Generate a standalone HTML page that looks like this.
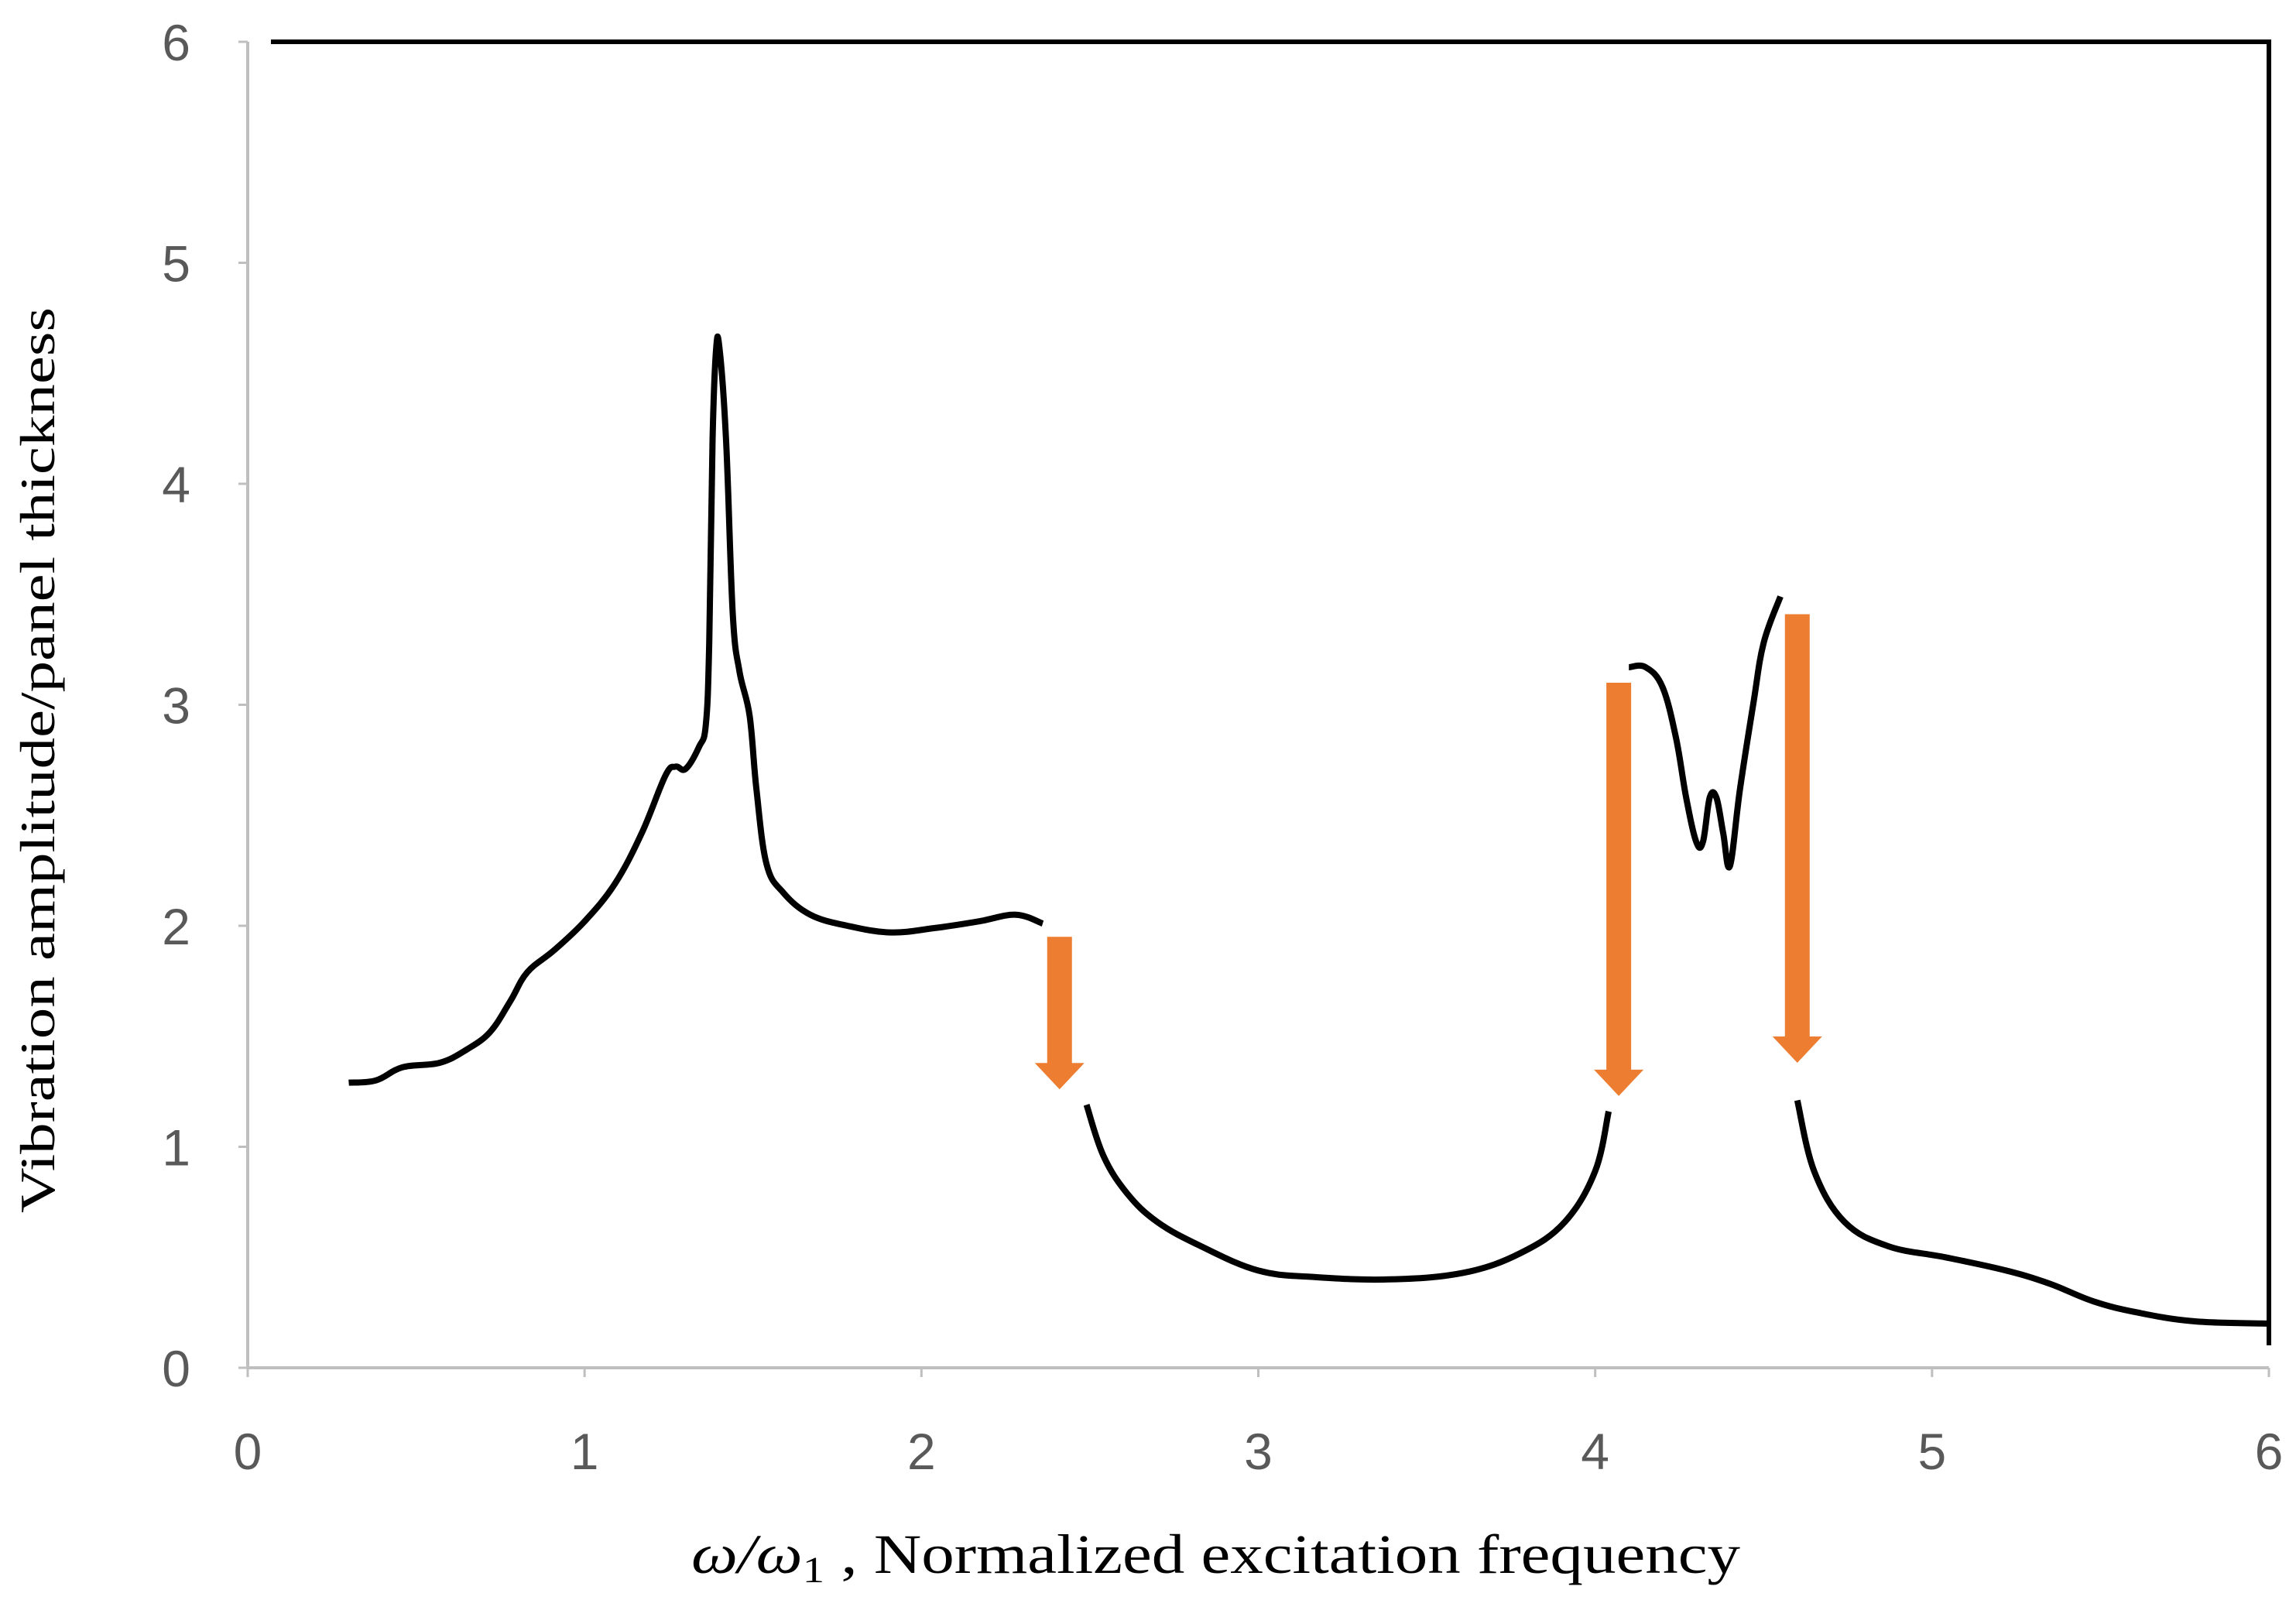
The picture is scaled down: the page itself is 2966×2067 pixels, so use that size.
<!DOCTYPE html>
<html><head><meta charset="utf-8"><style>
html,body{margin:0;padding:0;background:#fff;}
svg{display:block;}
</style></head><body>
<svg id="chart" width="2966" height="2067" viewBox="0 0 2966 2067" xmlns="http://www.w3.org/2000/svg">
<rect width="2966" height="2067" fill="#fff"/>
<g id="frame"></g>
<g id="ticks"></g>
<g id="curves"></g>
<g id="arrows"></g>
<text transform="translate(70,982) rotate(-90)" text-anchor="middle" font-family="Liberation Serif, serif" font-size="64" fill="#000" textLength="1170" lengthAdjust="spacingAndGlyphs">Vibration amplitude/panel thickness</text>
<text x="893" y="2032" font-family="Liberation Serif, serif" font-size="72" fill="#000" textLength="1355" lengthAdjust="spacingAndGlyphs"><tspan font-style="italic">ω/ω</tspan><tspan font-size="48" dy="12">1</tspan><tspan dy="-12"> ,    Normalized excitation frequency</tspan></text>
</svg>
<script>
const xTicks = [0,1,2,3,4,5,6];
const yTicks = [0,1,2,3,4,5,6];
const seg1X = [0.30,0.38,0.46,0.57,0.65,0.72,0.78,0.83,0.91,1.00,1.09,1.17,1.24,1.27,1.30,1.34,1.36,1.37,1.38,1.39,1.40,1.42,1.44,1.46,1.49,1.51,1.54,1.59,1.67,1.78,1.91,2.04,2.17,2.28,2.36];
const seg1Y = [1.29,1.30,1.36,1.38,1.44,1.52,1.66,1.79,1.89,2.02,2.19,2.42,2.68,2.72,2.71,2.81,2.91,3.28,4.20,4.60,4.62,4.20,3.41,3.15,2.95,2.62,2.28,2.15,2.05,2.00,1.97,1.99,2.02,2.05,2.01];
const seg2X = [2.49,2.54,2.61,2.70,2.83,3.00,3.17,3.39,3.61,3.78,3.91,4.00,4.04];
const seg2Y = [1.19,0.96,0.79,0.66,0.55,0.44,0.41,0.40,0.43,0.52,0.66,0.89,1.16];
const seg3X = [4.10,4.15,4.20,4.24,4.27,4.30,4.32,4.34,4.36,4.38,4.40,4.43,4.47,4.50,4.55];
const seg3Y = [3.17,3.17,3.08,2.85,2.58,2.38,2.38,2.58,2.58,2.42,2.27,2.62,3.01,3.28,3.49];
const seg4X = [4.60,4.65,4.74,4.87,5.04,5.22,5.35,5.48,5.61,5.78,6.00];
const seg4Y = [1.21,0.89,0.66,0.55,0.50,0.44,0.38,0.30,0.25,0.21,0.20];
const arrowX = [2.41,4.07,4.60];
const arrowTop = [1.95,3.10,3.41];
const arrowTip = [1.26,1.23,1.38];

const NS='http://www.w3.org/2000/svg';
const X0=320,X1=2931,Y0=1767,Y1=54;
const sx=v=>X0+(v-0)/6*(X1-X0);
const sy=v=>Y0-(v-0)/6*(Y0-Y1);
function mk(tag,attrs,parent){const e=document.createElementNS(NS,tag);for(const k in attrs)e.setAttribute(k,attrs[k]);parent.appendChild(e);return e;}

const frame=document.getElementById('frame');
let e;
e=mk('line',{x1:X0,y1:Y0,x2:X1,y2:Y0,stroke:'#bfbfbf','stroke-width':4},frame);


e=mk('line',{x1:X0,y1:Y0,x2:X0,y2:Y1,stroke:'#bfbfbf','stroke-width':4},frame);


e=mk('line',{x1:350,y1:Y1,x2:X1+3,y2:Y1,stroke:'#000','stroke-width':6},frame);


e=mk('line',{x1:X1,y1:Y1,x2:X1,y2:1738,stroke:'#000','stroke-width':6},frame);



const ticks=document.getElementById('ticks');
xTicks.forEach(t=>{
  const x=sx(t);
  const l=mk('line',{x1:x,y1:Y0,x2:x,y2:Y0+12,stroke:'#bfbfbf','stroke-width':3},ticks);
  
  
  const tx=mk('text',{x:x,y:1898,'text-anchor':'middle','font-family':'Liberation Sans, sans-serif','font-size':66,fill:'#595959'},ticks);
  tx.textContent=t;
  
  
});
yTicks.forEach(t=>{
  const y=sy(t);
  const l=mk('line',{x1:X0-12,y1:y,x2:X0,y2:y,stroke:'#bfbfbf','stroke-width':3},ticks);
  
  
  const tx=mk('text',{x:246,y:y+24,'text-anchor':'end','font-family':'Liberation Sans, sans-serif','font-size':66,fill:'#595959'},ticks);
  tx.textContent=t;
  
  
});

const curves=document.getElementById('curves');
function pathFrom(xs,ys){
  const p=xs.map((v,i)=>[sx(v),sy(ys[i])]);
  let d='M'+p[0][0].toFixed(1)+','+p[0][1].toFixed(1);
  for(let i=0;i<p.length-1;i++){
    const p0=p[i-1]||p[i],p1=p[i],p2=p[i+1],p3=p[i+2]||p2;
    const t=0.18;
    const c1=[p1[0]+(p2[0]-p0[0])*t,p1[1]+(p2[1]-p0[1])*t];
    const c2=[p2[0]-(p3[0]-p1[0])*t,p2[1]-(p3[1]-p1[1])*t];
    d+=' C'+c1.map(v=>v.toFixed(1)).join(',')+' '+c2.map(v=>v.toFixed(1)).join(',')+' '+p2[0].toFixed(1)+','+p2[1].toFixed(1);
  }
  return d;
}
[[seg1X,seg1Y,'curve-lower-branch-1'],[seg2X,seg2Y,'curve-lower-branch-2'],[seg3X,seg3Y,'curve-upper-branch'],[seg4X,seg4Y,'curve-lower-branch-3']].forEach(s=>{
  const p=mk('path',{d:pathFrom(s[0],s[1]),fill:'none',stroke:'#000','stroke-width':8,'stroke-linejoin':'round'},curves);
  
  
});

const arrows=document.getElementById('arrows');
arrowX.forEach((v,i)=>{
  const cx=sx(v),top=sy(arrowTop[i]),tip=sy(arrowTip[i]);
  const sw=16,hw=32,hh=34;
  const d=`M${cx-sw},${top} L${cx+sw},${top} L${cx+sw},${tip-hh} L${cx+hw},${tip-hh} L${cx},${tip} L${cx-hw},${tip-hh} L${cx-sw},${tip-hh} Z`;
  const a=mk('path',{d:d,fill:'#ED7D31'},arrows);
  
  
});
</script>
</body></html>
